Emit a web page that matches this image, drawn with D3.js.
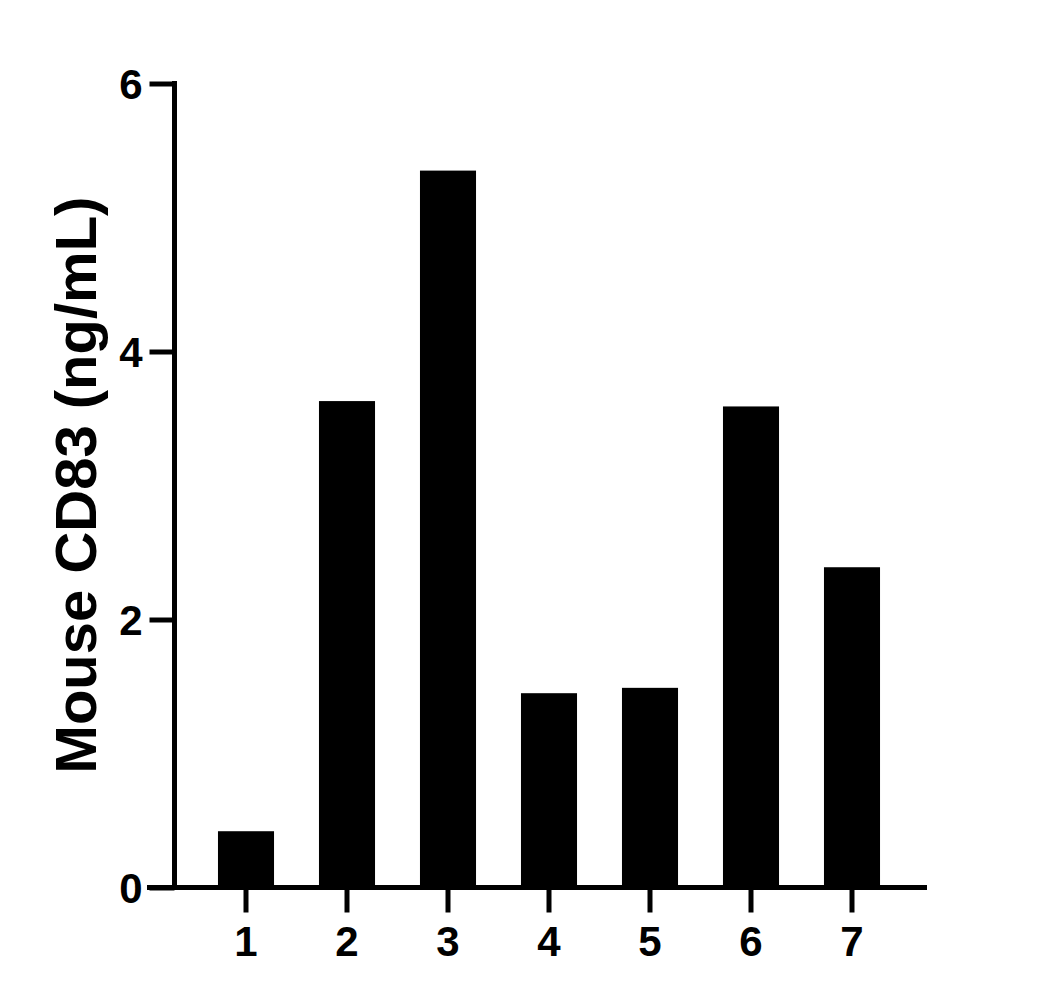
<!DOCTYPE html>
<html>
<head>
<meta charset="utf-8">
<script src="https://cdn.jsdelivr.net/npm/d3@7"></script>
<style>
  body { margin: 0; background: #fff; }
  text { font-family: "Liberation Sans", Arial, sans-serif; font-weight: bold; }
</style>
</head>
<body>
<div id="chart"></div>
<script>
var categories = ["1", "2", "3", "4", "5", "6", "7"];
var values = [0.42, 3.63, 5.35, 1.45, 1.49, 3.59, 2.39];
var yTicks = [0, 2, 4, 6];
var yTitle = "Mouse CD83 (ng/mL)";

var width = 1062, height = 1004;

var svg = d3.select("#chart")
	.append("svg")
	.attr("width", width)
	.attr("height", height);

var y = d3.scaleLinear().domain([0, 6]).range([887.5, 83.5]);
var x = d3.scaleBand()
	.domain(categories)
	.range([195.5, 902.5])
	.paddingInner(0.445)
	.paddingOuter(0.2225);

// bars
svg.selectAll(".bar")
	.data(values)
	.enter().append("rect")
	.attr("class", "bar")
	.attr("x", function(d, i) { return x(categories[i]); })
	.attr("y", function(d) { return y(d); })
	.attr("width", x.bandwidth())
	.attr("height", function(d) { return y(0) - y(d); })
	.style("fill", "#000");

// y axis
var yAxis = svg.append("g")
	.attr("transform", "translate(174.5,0)")
	.call(d3.axisLeft(y).tickValues(yTicks).tickFormat(d3.format("d"))
		.tickSize(25).tickPadding(7).tickSizeOuter(0));
yAxis.select(".domain").remove();
yAxis.selectAll(".tick line").attr("stroke", "#000").attr("stroke-width", 5);
yAxis.selectAll(".tick text").attr("font-size", 42).attr("fill", "#000").attr("dy", "0.36em");
yAxis.append("line")
	.attr("x1", 0).attr("x2", 0)
	.attr("y1", y(6) - 2.5).attr("y2", y(0) + 2.5)
	.attr("stroke", "#000").attr("stroke-width", 5);

// x axis
var xAxis = svg.append("g")
	.attr("transform", "translate(0," + y(0) + ")")
	.call(d3.axisBottom(x).tickSize(25).tickPadding(14).tickSizeOuter(0));
xAxis.select(".domain").remove();
xAxis.selectAll(".tick line").attr("stroke", "#000").attr("stroke-width", 5);
xAxis.selectAll(".tick text").attr("font-size", 42).attr("fill", "#000");
xAxis.append("line")
	.attr("x1", 147).attr("x2", 927)
	.attr("y1", 0).attr("y2", 0)
	.attr("stroke", "#000").attr("stroke-width", 5);

// y title
svg.append("text")
	.attr("transform", "translate(96,485) rotate(-90)")
	.attr("text-anchor", "middle")
	.attr("font-size", 58)
	.attr("fill", "#000")
	.text(yTitle);
</script>
</body>
</html>
